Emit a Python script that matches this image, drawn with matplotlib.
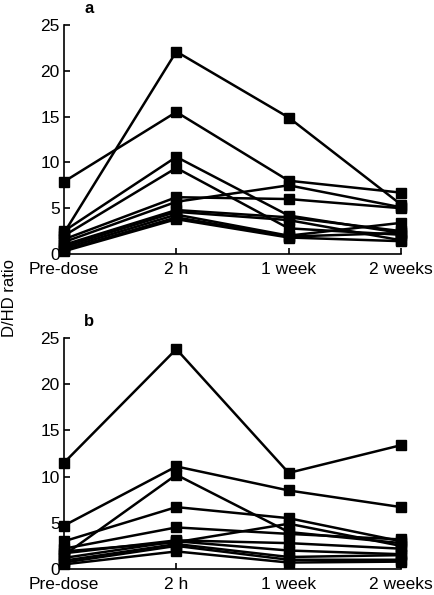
import matplotlib
matplotlib.use("Agg")
import matplotlib.pyplot as plt

plt.rcParams['font.family'] = ['Liberation Sans', 'DejaVu Sans']

timepoints = ["Pre-dose", "2 h", "1 week", "2 weeks"]
yticks = [0, 5, 10, 15, 20, 25]

# Panel a: each list is one subject across the four timepoints
panel_a = [
    [2.3, 22.1, 14.9, 5.4],
    [7.9, 15.5, 8.0, 6.7],
    [2.5, 10.6, 4.2, 2.3],
    [2.0, 9.4, 2.8, 2.1],
    [1.6, 6.2, 6.0, 5.0],
    [1.3, 5.7, 7.5, 5.1],
    [1.0, 4.8, 4.0, 2.5],
    [0.8, 4.6, 3.7, 1.5],
    [0.6, 4.3, 2.0, 3.4],
    [0.4, 4.0, 1.9, 2.3],
    [0.3, 3.8, 1.8, 1.4],
]

# Panel b
panel_b = [
    [11.5, 23.8, 10.4, 13.4],
    [4.7, 11.1, 8.5, 6.7],
    [1.5, 10.2, 4.0, 2.8],
    [3.0, 6.7, 5.5, 3.0],
    [2.2, 4.5, 3.8, 3.2],
    [1.9, 2.9, 4.9, 2.5],
    [1.7, 3.1, 2.8, 2.2],
    [1.2, 3.0, 2.0, 1.6],
    [0.9, 2.7, 1.3, 1.5],
    [0.7, 2.5, 1.0, 1.0],
    [0.5, 1.9, 0.7, 0.8],
]

fig = plt.figure(figsize=(4.35, 5.95), dpi=100)
W, H = 435, 595

def make_ax(top_px, bottom_px):
    left, right = 64, 401
    return fig.add_axes([left / W, 1 - bottom_px / H, (right - left) / W, (bottom_px - top_px) / H])

ax_a = make_ax(25, 254)
ax_b = make_ax(338, 569)

for ax, data, label in [(ax_a, panel_a, "a"), (ax_b, panel_b, "b")]:
    x = list(range(len(timepoints)))
    for series in data:
        ax.plot(x, series, color="black", lw=1.8, marker="s", ms=7,
                mfc="black", mec="black", clip_on=False, zorder=3)
    ax.set_xlim(0, 3)
    ax.set_ylim(0, 25)
    ax.set_yticks(yticks)
    ax.set_xticks(x)
    ax.set_xticklabels(timepoints)
    for s in ["top", "right"]:
        ax.spines[s].set_visible(False)
    for s in ["left", "bottom"]:
        ax.spines[s].set_linewidth(1.2)
    ax.tick_params(direction="in", length=4, width=1.2, labelsize=12.5, pad=3)
    ax.tick_params(axis="x", pad=6)
    ax.text(0.06, 1.04, label, transform=ax.transAxes, fontsize=12,
            fontweight="bold", ha="left", va="bottom")

fig.text(10 / W, 1 - 298 / H, "D/HD ratio", rotation=90, fontsize=12,
         ha="center", va="center")

fig.savefig("out.png", dpi=100)
